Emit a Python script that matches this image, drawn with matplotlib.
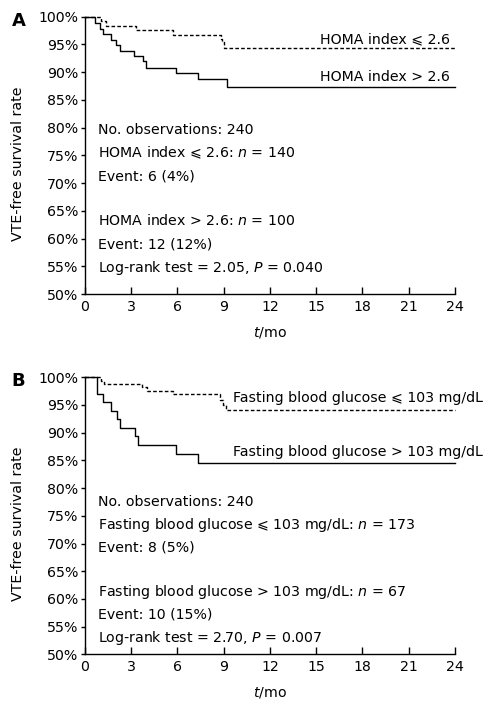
import matplotlib
matplotlib.use("Agg")
import matplotlib.pyplot as plt
from matplotlib.ticker import FuncFormatter

plt.rcParams['font.family'] = ['DejaVu Sans']
plt.rcParams['mathtext.fontset'] = 'dejavusans'

FS = 10.2

# panel A: HOMA index
a_low_t = [0, 1.05, 1.39, 3.33, 5.69, 8.82, 8.9, 9.0, 24]
a_low_s = [100, 99.2, 98.4, 97.6, 96.7, 95.9, 95.4, 94.4, 94.4]
a_high_t = [0, 0.68, 0.96, 1.18, 1.70, 2.04, 2.25, 3.21, 3.74, 3.94, 5.9, 7.3, 9.21, 24]
a_high_s = [100, 98.8, 97.8, 96.9, 95.8, 94.9, 93.9, 93.0, 92.0, 90.8, 89.9, 88.7, 87.4, 87.4]

# panel B: fasting blood glucose
b_low_t = [0, 1.05, 1.26, 3.7, 4.0, 5.69, 8.78, 8.95, 9.16, 24]
b_low_s = [100, 99.3, 98.7, 98.2, 97.5, 96.9, 95.9, 95.0, 94.1, 94.1]
b_high_t = [0, 0.79, 1.18, 1.70, 2.08, 2.26, 3.27, 3.42, 5.9, 7.3, 24]
b_high_s = [100, 97.0, 95.5, 93.9, 92.4, 90.8, 89.4, 87.8, 86.2, 84.6, 84.6]

x_ticks = [0, 3, 6, 9, 12, 15, 18, 21, 24]
y_ticks = [50, 55, 60, 65, 70, 75, 80, 85, 90, 95, 100]

a_curve_labels = ["HOMA index \u2a7d 2.6", "HOMA index > 2.6"]
a_notes = ["No. observations: 240", "HOMA index \u2a7d 2.6: $n$ = 140", "Event: 6 (4%)",
           "HOMA index > 2.6: $n$ = 100", "Event: 12 (12%)", "Log-rank test = 2.05, $P$ = 0.040"]
b_curve_labels = ["Fasting blood glucose \u2a7d 103 mg/dL", "Fasting blood glucose > 103 mg/dL"]
b_notes = ["No. observations: 240", "Fasting blood glucose \u2a7d 103 mg/dL: $n$ = 173", "Event: 8 (5%)",
           "Fasting blood glucose > 103 mg/dL: $n$ = 67", "Event: 10 (15%)", "Log-rank test = 2.70, $P$ = 0.007"]


def draw_panel(ax, letter, low_t, low_s, high_t, high_s, curve_labels, label_y, label_x, notes, note_y):
    ax.step(low_t, low_s, where='post', color='black', lw=1.0, dashes=(2.6, 1.6), clip_on=False)
    ax.step(high_t, high_s, where='post', color='black', lw=1.0, clip_on=False)
    ax.set_xlim(0, 24)
    ax.set_ylim(50, 100)
    ax.set_xticks(x_ticks)
    ax.set_yticks(y_ticks)
    ax.yaxis.set_major_formatter(FuncFormatter(lambda v, p: "%d%%" % v))
    for s in ['top', 'right']:
        ax.spines[s].set_visible(False)
    for s in ['left', 'bottom']:
        ax.spines[s].set_linewidth(1.0)
    ax.tick_params(axis='x', direction='in', length=5, width=1.0, pad=4, labelsize=FS)
    ax.tick_params(axis='y', direction='out', length=3, width=1.0, pad=2, labelsize=FS)
    ax.set_xlabel("$t$/mo", fontsize=FS)
    ax.xaxis.set_label_coords(0.5, -0.112)
    ax.set_ylabel("VTE-free survival rate", fontsize=FS)
    ax.yaxis.set_label_coords(-0.162, 0.47)

    for txt, yy in zip(curve_labels, label_y):
        ax.text(label_x, yy, txt, ha='right', va='center', fontsize=FS, clip_on=False)
    for txt, yy in zip(notes, note_y):
        ax.text(0.83, yy, txt, ha='left', va='center', fontsize=FS)
    ax.text(-0.18, 0.986, letter, transform=ax.transAxes, fontsize=13, fontweight='bold',
            ha='center', va='center')


fig = plt.figure(figsize=(4.93, 7.08), dpi=100)
ax_a = fig.add_axes([0.1724, 0.5847, 0.7505, 0.3917])
ax_b = fig.add_axes([0.1724, 0.0758, 0.7505, 0.3913])

draw_panel(ax_a, "A", a_low_t, a_low_s, a_high_t, a_high_s, a_curve_labels, [96.0, 89.1], 23.67,
           a_notes, [79.6, 75.4, 71.2, 63.2, 58.9, 54.7])
draw_panel(ax_b, "B", b_low_t, b_low_s, b_high_t, b_high_s, b_curve_labels, [96.2, 86.6], 25.8,
           b_notes, [77.5, 73.3, 69.3, 61.3, 57.1, 52.9])

fig.savefig("out.png", dpi=100)
